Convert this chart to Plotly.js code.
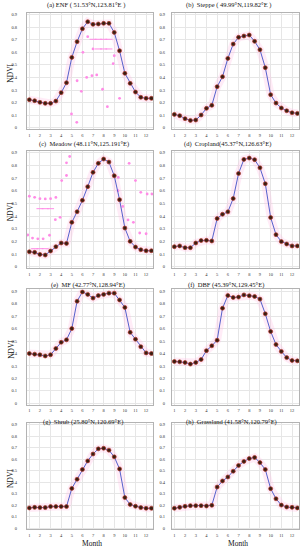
<!DOCTYPE html>
<html>
<head>
<meta charset="utf-8">
<script src="https://cdn.plot.ly/plotly-3.0.1.min.js"></script>
<style>
html,body{margin:0;padding:0;background:#fff;}
#chart{width:302px;height:550px;}
</style>
</head>
<body>
<div id="chart"></div>
<script>
// ---- data ----
const months = [1,1.5,2,2.5,3,3.5,4,4.5,5,5.5,6,6.5,7,7.5,8,8.5,9,9.5,10,10.5,11,11.5,12,12.5];
const monthTicks = [1,2,3,4,5,6,7,8,9,10,11,12];
const panelTitles = [
  "(a) ENF ( 51.53°N,123.81°E )",
  "(b)  Steppe ( 49.99°N,119.82°E )",
  "(c)  Meadow (48.11°N,125.191°E)",
  "(d)  Cropland(45.37°N,126.63°E)",
  "(e)  MF (42.77°N,128.94°E)",
  "(f)  DBF (45.39°N,129.45°E)",
  "(g)  Shrub (25.80°N,120.69°E)",
  "(h)  Grassland (41.58°N,120.79°E)"
];
const ndviENF = [0.223,0.215,0.202,0.194,0.194,0.212,0.279,0.358,0.560,0.685,0.788,0.844,0.823,0.826,0.831,0.831,0.759,0.613,0.433,0.353,0.284,0.242,0.234,0.234];
const ndviSteppe = [0.106,0.096,0.072,0.058,0.061,0.101,0.154,0.178,0.327,0.406,0.552,0.666,0.720,0.730,0.738,0.688,0.621,0.478,0.263,0.196,0.157,0.135,0.119,0.114];
const ndviMeadow = [0.118,0.113,0.097,0.092,0.124,0.158,0.187,0.184,0.350,0.434,0.524,0.632,0.745,0.816,0.850,0.826,0.718,0.529,0.305,0.200,0.155,0.134,0.126,0.126];
const ndviCropland = [0.158,0.164,0.150,0.150,0.187,0.206,0.208,0.203,0.380,0.414,0.433,0.538,0.736,0.847,0.858,0.845,0.781,0.655,0.388,0.253,0.198,0.179,0.164,0.164];
const ndviMF = [0.400,0.395,0.390,0.380,0.390,0.440,0.490,0.510,0.600,0.820,0.895,0.875,0.845,0.865,0.875,0.885,0.885,0.830,0.770,0.570,0.515,0.455,0.405,0.400];
const ndviDBF = [0.336,0.333,0.328,0.315,0.328,0.352,0.423,0.462,0.507,0.764,0.866,0.850,0.853,0.871,0.864,0.858,0.837,0.719,0.577,0.472,0.417,0.367,0.344,0.341];
const ndviShrub = [0.175,0.180,0.178,0.178,0.187,0.187,0.187,0.187,0.345,0.425,0.510,0.585,0.645,0.690,0.695,0.678,0.620,0.515,0.265,0.205,0.190,0.178,0.172,0.172];
const ndviGrassland = [0.172,0.180,0.189,0.195,0.195,0.195,0.192,0.198,0.357,0.410,0.445,0.495,0.545,0.580,0.605,0.615,0.570,0.510,0.343,0.255,0.200,0.183,0.180,0.175];

// raw (noisy) observations shown in pink
const rawENF_x = [4.97,5.47,5.5,5.9,6.05,6.4,6.5,6.9,7.0,7.35,7.9,8.35,8.9,9.0,9.5];
const rawENF_y = [0.109,0.043,0.374,0.29,0.60,0.40,0.725,0.414,0.627,0.42,0.306,0.167,0.51,0.573,0.234];
const dashENF_x = [7.0,7.5,8.0,8.5,7.5,8.0,8.5];
const dashENF_y = [0.704,0.704,0.704,0.704,0.627,0.627,0.627];
const rawMeadow_x = [0.85,1.0,1.5,2.0,2.5,3.0,3.5,1.3,1.8,2.3,2.9,3.45,3.9,4.05,4.5,4.5,4.8,9.35,9.38,9.8,10.3,10.8,10.4,11.0,11.5,12.1,12.55,11.4,12.0];
const rawMeadow_y = [0.25,0.556,0.548,0.537,0.535,0.537,0.547,0.226,0.22,0.22,0.248,0.371,0.39,0.68,0.72,0.82,0.87,0.60,0.705,0.476,0.369,0.35,0.816,0.68,0.587,0.574,0.574,0.266,0.26];
const dashMeadow_x = [2.0,2.5,3.0,1.5,2.0,2.5];
const dashMeadow_y = [0.458,0.458,0.458,0.142,0.142,0.142];

const series = [ndviENF, ndviSteppe, ndviMeadow, ndviCropland, ndviMF, ndviDBF, ndviShrub, ndviGrassland];

// ---- layout geometry ----
const W = 302, H = 550;
const colPx = [[27,153],[172,299]];
const rowPx = [[12.8,129.2],[150.8,268.2],[289.4,404.8],[423,529.4]];
const titleY = [5,143.7,285,421.5];
const titleX = [[86,228],[84,227],[88,226],[83,231]];
const serif = "Liberation Serif, Times New Roman, serif";

const traces = [];
const layout = {
  width: W, height: H,
  margin: {l:0,r:0,t:0,b:0},
  paper_bgcolor: "#ffffff",
  plot_bgcolor: "#ffffff",
  showlegend: false,
  annotations: [],
  font: {family: serif, color: "#222"}
};

for (let i = 0; i < 8; i++) {
  const row = Math.floor(i/2), col = i % 2;
  const n = i === 0 ? "" : String(i+1);
  const xa = "x"+n, ya = "y"+n;
  const [x0,x1] = colPx[col];
  const [yt,yb] = rowPx[row];
  layout["xaxis"+n] = {
    domain: [x0/W, x1/W],
    anchor: ya,
    range: [0.78, 12.65],
    tickvals: monthTicks,
    ticktext: monthTicks.map(String),
    ticks: "",
    showgrid: true, gridcolor: "#e6e6e6", gridwidth: 1,
    zeroline: false,
    showline: true, linecolor: "#b3b3b3", linewidth: 1, mirror: true,
    tickfont: {family: serif, size: 4.5, color: "#333"},
    ticklabelstandoff: 1,
    fixedrange: true
  };
  layout["yaxis"+n] = {
    domain: [1 - yb/H, 1 - yt/H],
    anchor: xa,
    range: [-0.012, 0.915],
    tickvals: [0,0.1,0.2,0.3,0.4,0.5,0.6,0.7,0.8,0.9],
    ticktext: ["0","0.1","0.2","0.3","0.4","0.5","0.6","0.7","0.8","0.9"],
    ticks: "",
    showgrid: true, gridcolor: "#e6e6e6", gridwidth: 1,
    zeroline: false,
    showline: true, linecolor: "#b3b3b3", linewidth: 1, mirror: true,
    tickfont: {family: serif, size: 4.5, color: "#333"},
    ticklabelstandoff: col === 0 ? 8 : 5,
    fixedrange: true
  };

  // faint pink halo around the curve
  traces.push({
    x: months, y: series[i], xaxis: xa, yaxis: ya,
    type: "scatter", mode: "lines",
    line: {color: "rgba(255,185,225,0.28)", width: 8},
    hoverinfo: "skip"
  });

  if (i === 0) {
    traces.push({x: rawENF_x, y: rawENF_y, xaxis: xa, yaxis: ya, type: "scatter", mode: "markers",
      marker: {color: "#ff8ce6", size: 2.8}});
    traces.push({x: dashENF_x, y: dashENF_y, xaxis: xa, yaxis: ya, type: "scatter", mode: "markers",
      marker: {symbol: "line-ew", size: 5, line: {color: "#ff8ce6", width: 1}}});
  }
  if (i === 2) {
    traces.push({x: rawMeadow_x, y: rawMeadow_y, xaxis: xa, yaxis: ya, type: "scatter", mode: "markers",
      marker: {color: "#ff8ce6", size: 2.8}});
    traces.push({x: dashMeadow_x, y: dashMeadow_y, xaxis: xa, yaxis: ya, type: "scatter", mode: "markers",
      marker: {symbol: "line-ew", size: 5, line: {color: "#ff8ce6", width: 1}}});
  }

  // fitted curve with points
  traces.push({
    x: months, y: series[i], xaxis: xa, yaxis: ya,
    type: "scatter", mode: "lines+markers",
    line: {color: "#5560cc", width: 1},
    marker: {color: "#3a1f12", size: 4, line: {color: "#b2372b", width: 0.7}}
  });

  layout.annotations.push({
    text: panelTitles[i], xref: "paper", yref: "paper",
    x: titleX[row][col]/W, y: 1 - titleY[row]/H,
    xanchor: "center", yanchor: "middle", showarrow: false,
    font: {family: serif, size: 6.5, color: "#111"}
  });

  if (col === 0) {
    layout.annotations.push({
      text: "NDVI", xref: "paper", yref: "paper",
      x: 10.7/W, y: 1 - ((yt+yb)/2 + 2)/H,
      xanchor: "center", yanchor: "middle", showarrow: false, textangle: -90,
      font: {family: serif, size: 7.5, color: "#111"}
    });
  }
  if (row === 3) {
    layout.annotations.push({
      text: "Month", xref: "paper", yref: "paper",
      x: (col === 0 ? 91.7 : 237.7)/W, y: 1 - 543.5/H,
      xanchor: "center", yanchor: "middle", showarrow: false,
      font: {family: serif, size: 7.5, color: "#111"}
    });
  }
}

Plotly.newPlot("chart", traces, layout, {staticPlot: true, displayModeBar: false});
</script>
</body>
</html>
